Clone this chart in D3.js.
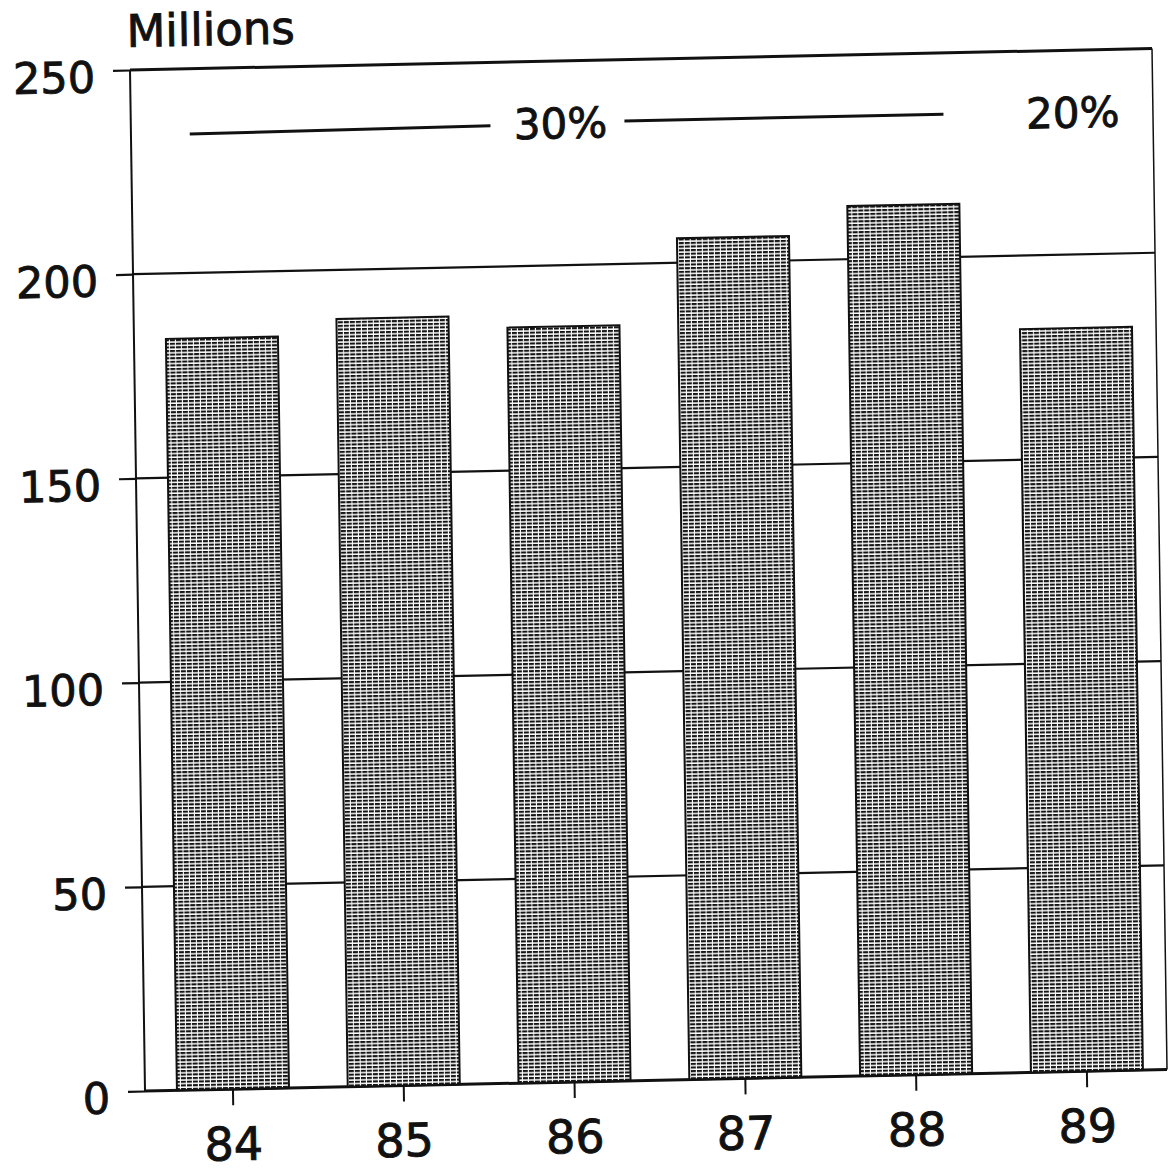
<!DOCTYPE html>
<html>
<head>
<meta charset="utf-8">
<script src="https://cdn.jsdelivr.net/npm/d3@7"></script>
<style>
  html, body { margin: 0; padding: 0; background: #fff; }
  svg { display: block; }
  text { font-family: "DejaVu Sans", "Liberation Sans", sans-serif; fill: #111; stroke: #111; stroke-width: 0.9px; }
</style>
</head>
<body>
<svg id="chart" width="1175" height="1172"></svg>
<script>
// Yearly totals, in millions
const categories = ["84", "85", "86", "87", "88", "89"];
const values = [184, 188, 185, 206, 213, 182];
const yTicks = [0, 50, 100, 150, 200, 250];
const unitLabel = "Millions";

// Growth notes drawn above the bars
const noteLabels = ["30%", "20%"];
const noteFrom = ["84", "89"];
const noteTo = ["88", "89"];
const noteCenter = ["86", "89"];
const noteLevel = 235;

const W = 1022, H = 1021;
const ink = "#111";

const svg = d3.select("#chart");
svg.append("rect").attr("width", 1175).attr("height", 1172).attr("fill", "#fff");

// Dotted screen fill for the bars
const defs = svg.append("defs");
const pat = defs.append("pattern")
  .attr("id", "screen")
  .attr("patternUnits", "userSpaceOnUse")
  .attr("width", 6).attr("height", 3.6);
pat.append("rect").attr("width", 6).attr("height", 3.6).attr("fill", "#fff");
pat.append("rect").attr("x", 0).attr("y", 0).attr("width", 5).attr("height", 2.1)
  .attr("fill", "#141414");

// The printed page sits slightly skewed
const g = svg.append("g").attr("transform", "matrix(1,-0.021,0.0147,1,130,70)");

const x = d3.scaleBand(categories, [0, W])
  .paddingInner(0.344).paddingOuter(0.164).align(0.57);
const y = d3.scaleLinear([0, 250], [H, 0]);
const bw = x.bandwidth();

// Horizontal grid lines (top and bottom heavier)
g.append("g").selectAll("line").data(yTicks).join("line")
  .attr("x1", 0).attr("x2", W)
  .attr("y1", d => y(d)).attr("y2", d => y(d))
  .attr("stroke", ink)
  .attr("stroke-width", d => (d === 0 || d === 250) ? 3 : 2.2);

// Bars
g.append("g").selectAll("rect").data(values).join("rect")
  .attr("x", (d, i) => x(categories[i]))
  .attr("y", d => y(d))
  .attr("width", bw)
  .attr("height", d => y(0) - y(d))
  .attr("fill", "url(#screen)")
  .attr("stroke", ink).attr("stroke-width", 2);

// Frame: left axis and right border
g.append("line").attr("x1", 0).attr("x2", 0).attr("y1", 0).attr("y2", H)
  .attr("stroke", ink).attr("stroke-width", 2);
g.append("line").attr("x1", W).attr("x2", W).attr("y1", 0).attr("y2", H)
  .attr("stroke", ink).attr("stroke-width", 1.5);

// Y axis
const yAxis = g.append("g").call(
  d3.axisLeft(y).tickValues(yTicks).tickSize(17).tickPadding(18).tickFormat(d3.format("d"))
);
yAxis.select(".domain").remove();
yAxis.selectAll(".tick line").attr("stroke", ink).attr("stroke-width", 2.2);
yAxis.selectAll(".tick text")
  .attr("font-size", 43).attr("dy", "0.49em")
  .attr("font-family", "DejaVu Sans").attr("fill", ink);

// X axis
const xAxis = g.append("g").attr("transform", `translate(0,${H})`).call(
  d3.axisBottom(x).tickSize(16).tickPadding(0)
);
xAxis.select(".domain").remove();
xAxis.selectAll(".tick line").attr("stroke", ink).attr("stroke-width", 2);
xAxis.selectAll(".tick text")
  .attr("font-size", 46).attr("y", 71).attr("dy", 0)
  .attr("font-family", "DejaVu Sans").attr("fill", ink);

// Unit label
g.append("text")
  .attr("x", -3).attr("y", -23)
  .attr("font-size", 45)
  .text(unitLabel);

// Growth notes
noteLabels.forEach((lab, i) => {
  const cx = x(noteCenter[i]) + bw / 2;
  const ly = y(noteLevel);
  if (noteFrom[i] !== noteTo[i]) {
    const x0 = x(noteFrom[i]) + bw * 0.24;
    const x1 = x(noteTo[i]) + bw * 0.87;
    g.append("line").attr("x1", x0).attr("x2", cx - 70).attr("y1", ly + 4).attr("y2", ly + 2)
      .attr("stroke", ink).attr("stroke-width", 3);
    g.append("line").attr("x1", cx + 64).attr("x2", x1).attr("y1", ly).attr("y2", ly)
      .attr("stroke", ink).attr("stroke-width", 3);
  }
  g.append("text")
    .attr("x", cx).attr("y", ly + 16)
    .attr("text-anchor", "middle")
    .attr("font-size", 42)
    .text(lab);
});
</script>
</body>
</html>
